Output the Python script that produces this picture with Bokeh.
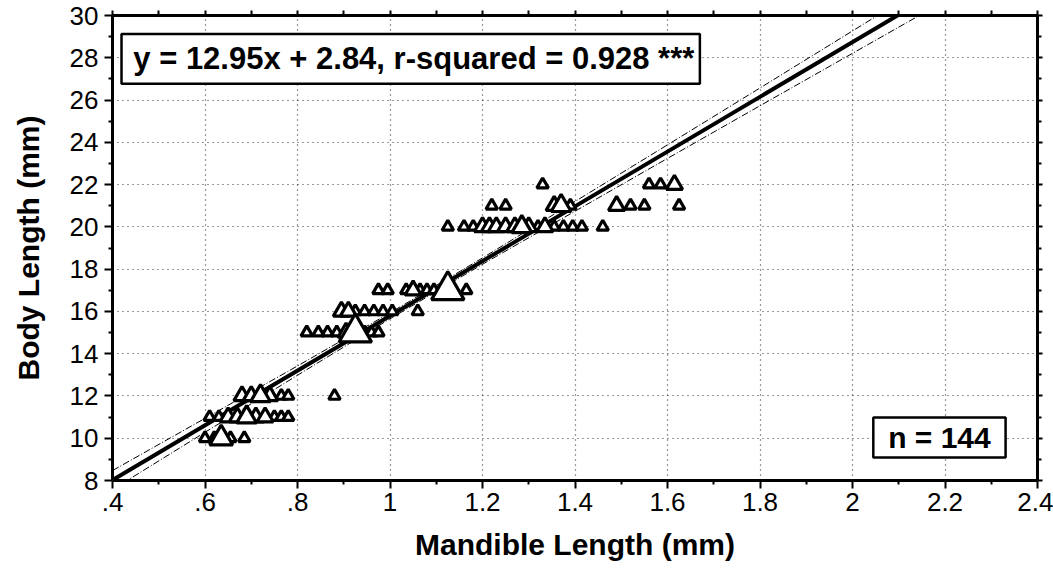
from bokeh.plotting import figure
from bokeh.models import Range1d, LinearAxis, Label, BoxAnnotation, FixedTicker
from bokeh.embed import file_html
from bokeh.resources import INLINE

# ---------------- data ----------------
mandible_mm = [0.60, 0.62, 0.635, 0.655, 0.685,
               0.61, 0.63, 0.65, 0.67, 0.69, 0.71, 0.73, 0.75, 0.765, 0.78,
               0.68, 0.70, 0.72, 0.74, 0.765, 0.78, 0.88,
               0.82, 0.845, 0.865, 0.885, 0.905, 0.925, 0.945, 0.96, 0.975,
               0.895, 0.91, 0.925, 0.945, 0.965, 0.985, 1.005, 1.06,
               0.975, 0.995, 1.035, 1.05, 1.065, 1.08, 1.095, 1.125, 1.165,
               1.125, 1.16, 1.18, 1.20, 1.215, 1.23, 1.25, 1.27, 1.285, 1.30,
               1.32, 1.335, 1.355, 1.375, 1.395, 1.415, 1.46,
               1.22, 1.25, 1.355, 1.37, 1.39, 1.49, 1.52, 1.55, 1.625,
               1.33, 1.56, 1.585, 1.615]
body_mm = [10, 10, 10, 10, 10,
           11, 11, 11, 11, 11, 11, 11, 11, 11, 11,
           12, 12, 12, 12, 12, 12, 12,
           15, 15, 15, 15, 15, 15, 15, 15, 15,
           16, 16, 16, 16, 16, 16, 16, 16,
           17, 17, 17, 17, 17, 17, 17, 17, 17,
           20, 20, 20, 20, 20, 20, 20, 20, 20, 20,
           20, 20, 20, 20, 20, 20, 20,
           21, 21, 21, 21, 21, 21, 21, 21, 21,
           22, 22, 22, 22]
n_overlap = [1, 1, 4, 1, 1,
             1, 1, 2, 2, 3, 2, 2, 1, 1, 1,
             2, 2, 3, 2, 1, 1, 1,
             1, 1, 1, 1, 2, 8, 1, 1, 1,
             2, 2, 1, 1, 1, 1, 1, 1,
             1, 1, 1, 2, 1, 1, 1, 8, 1,
             1, 1, 1, 2, 2, 2, 2, 2, 3, 2,
             1, 2, 1, 1, 1, 1, 1,
             1, 1, 2, 3, 1, 2, 1, 1, 1,
             1, 1, 1, 2]

slope = 12.95
intercept = 2.84
band_x = [0.4, 0.6, 0.8, 1.0, 1.2, 1.4, 1.6, 1.8, 2.0, 2.2, 2.4]
band_halfwidth = [0.45, 0.33, 0.22, 0.14, 0.15, 0.23, 0.32, 0.42, 0.53, 0.64, 0.75]

x_ticks = [0.4, 0.6, 0.8, 1.0, 1.2, 1.4, 1.6, 1.8, 2.0, 2.2, 2.4]
x_tick_labels = [".4", ".6", ".8", "1", "1.2", "1.4", "1.6", "1.8", "2", "2.2", "2.4"]
y_ticks = [8, 10, 12, 14, 16, 18, 20, 22, 24, 26, 28, 30]

equation_text = "y = 12.95x + 2.84, r-squared = 0.928 ***"
n_text = "n = 144"
x_title = "Mandible Length (mm)"
y_title = "Body Length (mm)"

# ---------------- figure ----------------
FONT = "Liberation Sans"
p = figure(width=1053, height=573, x_range=Range1d(0.4, 2.4), y_range=Range1d(8, 30),
           output_backend="svg", toolbar_location=None,
           min_border_left=112, min_border_right=16, min_border_top=15, min_border_bottom=93,
           background_fill_color="white", border_fill_color="white")
p.outline_line_color = None

x_minor = [round(0.5 + 0.2 * i, 2) for i in range(10)]
y_minor = [9 + 2 * i for i in range(11)]
xt = FixedTicker(ticks=x_ticks, minor_ticks=x_minor)
yt = FixedTicker(ticks=y_ticks, minor_ticks=y_minor)

bx = p.xaxis[0]
ly = p.yaxis[0]
bx.ticker = xt
ly.ticker = yt
bx.major_label_overrides = {t: l for t, l in zip(x_ticks, x_tick_labels)}
for ax in (bx, ly):
    ax.axis_line_width = 3
    ax.axis_line_color = "black"
    ax.major_tick_line_width = 2
    ax.minor_tick_line_width = 2
    ax.major_tick_out = 8
    ax.major_tick_in = 0
    ax.minor_tick_out = 4
    ax.minor_tick_in = 0
    ax.major_label_text_font = FONT
    ax.major_label_text_font_size = "26px"
    ax.major_label_text_color = "black"
    ax.axis_label_text_font = FONT
    ax.axis_label_text_font_size = "30px"
    ax.axis_label_text_font_style = "bold"
    ax.axis_label_text_color = "black"
bx.axis_label = x_title
ly.axis_label = y_title
bx.major_label_standoff = 4
ly.major_label_standoff = 6
bx.axis_label_standoff = 14
ly.axis_label_standoff = 22

# frame axes on top and right: ticks only, no labels
top = LinearAxis(ticker=xt, axis_line_width=3,
                 major_tick_out=5, major_tick_in=0, minor_tick_out=5, minor_tick_in=0,
                 major_tick_line_width=2, minor_tick_line_width=2, major_label_standoff=0)
right = LinearAxis(ticker=yt, axis_line_width=3,
                   major_tick_out=5, major_tick_in=0, minor_tick_out=4, minor_tick_in=0,
                   major_tick_line_width=2, minor_tick_line_width=2, major_label_standoff=0)
for ax in (top, right):
    ax.major_label_text_color = None
    ax.major_label_text_font_size = "2px"
p.add_layout(top, "above")
p.add_layout(right, "right")

p.xgrid.ticker = xt
p.ygrid.ticker = yt
for g in (p.xgrid, p.ygrid):
    g.grid_line_color = "black"
    g.grid_line_dash = "1 4"
    g.grid_line_width = 1.2
    g.grid_line_alpha = 0.8

# regression line and band
fit_x = [band_x[0], band_x[-1]]
fit_y = [slope * v + intercept for v in fit_x]
upper = [slope * v + intercept + h for v, h in zip(band_x, band_halfwidth)]
lower = [slope * v + intercept - h for v, h in zip(band_x, band_halfwidth)]
p.line(band_x, upper, line_color="black", line_width=1, line_dash="7 2 1 2")
p.line(band_x, lower, line_color="black", line_width=1, line_dash="7 2 1 2")
p.line(fit_x, fit_y, line_color="black", line_width=4)

# points (size by number of overlapping observations)
order = sorted(range(len(mandible_mm)), key=lambda i: n_overlap[i])
px = [mandible_mm[i] for i in order]
py = [body_mm[i] for i in order]
ps = [11.5 * n_overlap[i] ** 0.5 for i in order]
p.scatter(px, py, marker="triangle", size=ps, fill_color="white",
          line_color="black", line_width=3.2)

# annotation boxes
p.add_layout(BoxAnnotation(left=0.4195, right=1.67, bottom=26.77, top=29.13,
                           fill_color="white", fill_alpha=1, line_color="black",
                           line_alpha=1, line_width=2.5, level="overlay"))
p.add_layout(Label(x=0.445, y=27.95, text=equation_text, text_align="left",
                   text_baseline="middle", text_font=FONT, text_font_size="31px",
                   text_font_style="bold", text_color="black", level="overlay"))
p.add_layout(BoxAnnotation(left=2.045, right=2.331, bottom=9.09, top=10.98,
                           fill_color="white", fill_alpha=1, line_color="black",
                           line_alpha=1, line_width=2.5, level="overlay"))
p.add_layout(Label(x=2.188, y=10.03, text=n_text, text_align="center",
                   text_baseline="middle", text_font=FONT, text_font_size="30px",
                   text_font_style="bold", text_color="black", level="overlay"))

open("out.html", "w").write(file_html(p, INLINE))
